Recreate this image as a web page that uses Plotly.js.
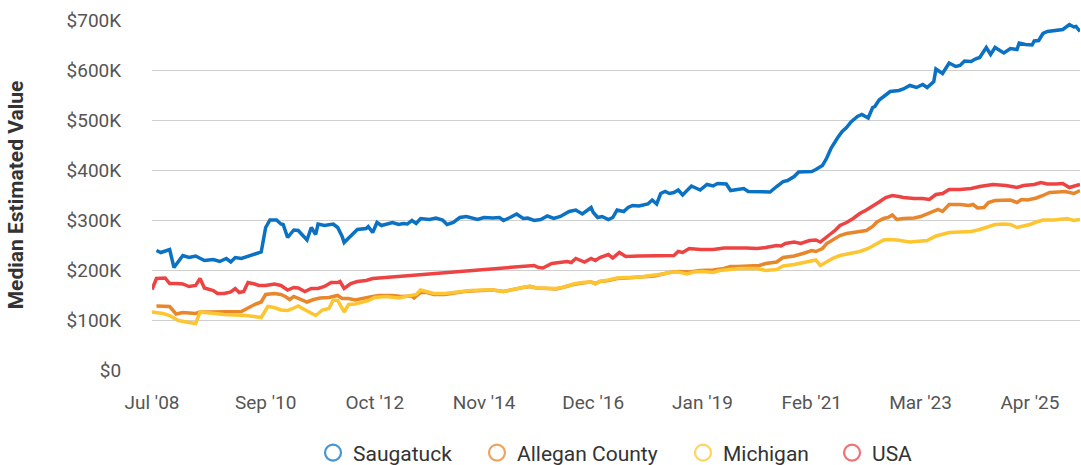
<!DOCTYPE html>
<html>
<head>
<meta charset="utf-8">
<script src="https://cdn.plot.ly/plotly-3.0.1.min.js"></script>
<style>html,body{margin:0;padding:0;background:#fff;}#chart{width:1081px;height:465px;}</style>
</head>
<body>
<div id="chart"></div>
<script>
// Median estimated value, in thousands of dollars
const seriesNames = ["Saugatuck", "Allegan County", "Michigan", "USA"];

const saugatuckDates = ["2008-08-01","2008-09-01","2008-11-01","2008-12-01","2009-02-01","2009-03-16","2009-05-01","2009-07-01","2009-09-01","2009-10-16","2009-12-01","2010-01-01","2010-02-01","2010-03-16","2010-08-01","2010-09-01","2010-10-01","2010-11-16","2010-12-16","2011-01-01","2011-02-01","2011-03-16","2011-04-16","2011-06-16","2011-07-16","2011-08-16","2011-09-01","2011-10-16","2011-12-16","2012-01-16","2012-02-16","2012-03-01","2012-04-16","2012-06-01","2012-08-01","2012-08-16","2012-09-16","2012-10-16","2012-11-16","2013-01-01","2013-02-01","2013-03-16","2013-04-16","2013-05-16","2013-06-16","2013-07-16","2013-08-16","2013-10-16","2013-12-01","2014-01-16","2014-02-16","2014-04-01","2014-05-16","2014-07-01","2014-09-16","2014-11-01","2015-01-01","2015-02-16","2015-03-16","2015-05-01","2015-06-16","2015-08-01","2015-09-01","2015-10-16","2015-12-01","2016-01-16","2016-03-01","2016-04-16","2016-05-16","2016-06-16","2016-08-01","2016-09-16","2016-11-16","2016-12-01","2017-01-01","2017-02-01","2017-03-16","2017-04-16","2017-05-16","2017-07-01","2017-08-01","2017-09-01","2017-10-16","2017-12-16","2018-01-16","2018-02-16","2018-03-16","2018-04-16","2018-05-16","2018-06-16","2018-07-16","2018-08-16","2018-10-16","2018-11-16","2018-12-16","2019-02-01","2019-03-16","2019-04-16","2019-06-16","2019-07-16","2019-09-01","2019-10-16","2019-11-16","2020-01-16","2020-03-01","2020-04-16","2020-06-01","2020-07-16","2020-08-16","2020-10-01","2020-11-01","2020-12-16","2021-02-01","2021-03-01","2021-04-16","2021-05-16","2021-06-16","2021-08-01","2021-09-01","2021-10-01","2021-11-01","2021-12-16","2022-01-16","2022-03-01","2022-04-01","2022-04-16","2022-05-16","2022-07-01","2022-08-01","2022-10-01","2022-11-01","2022-12-16","2023-02-01","2023-03-16","2023-04-16","2023-06-01","2023-06-16","2023-08-01","2023-09-16","2023-11-01","2023-12-01","2024-01-01","2024-02-16","2024-03-16","2024-04-16","2024-06-01","2024-07-01","2024-08-01","2024-10-01","2024-11-16","2025-01-01","2025-01-16","2025-03-01","2025-04-16","2025-05-01","2025-06-01","2025-07-01","2025-08-01","2025-10-01","2025-11-16","2026-01-01","2026-02-01","2026-02-16","2026-03-16"];
const saugatuckValues = [239,235,241,205,229,225,228,219,221,217,223,216,225,223,236,285,300,300,292,291,265,280,279,260,285,271,292,289,292,285,267,255,268,281,283,287,275,295,289,292,295,291,293,292,299,293,303,301,304,300,291,295,305,307,301,305,304,305,299,305,312,303,304,299,301,308,303,307,311,317,320,312,325,315,305,307,301,305,320,317,325,329,328,332,340,332,353,357,353,355,360,350,368,363,360,371,368,373,372,359,361,363,357,356,357,356,367,377,379,387,396,397,397,401,409,424,444,465,477,485,496,507,511,504,525,527,540,550,557,559,562,569,565,571,565,577,602,593,614,607,609,618,617,622,625,645,631,645,634,643,641,654,651,650,658,659,673,677,679,681,691,686,687,677];

const alleganDates = ["2008-08-01","2008-11-01","2008-12-16","2009-02-01","2009-05-01","2009-06-01","2009-09-01","2010-02-01","2010-03-16","2010-05-01","2010-06-16","2010-08-01","2010-09-01","2010-11-01","2010-12-16","2011-01-16","2011-02-16","2011-03-16","2011-05-01","2011-06-16","2011-08-01","2011-09-16","2011-11-16","2012-01-16","2012-02-16","2012-04-01","2012-05-16","2012-07-01","2012-09-16","2012-11-01","2013-02-01","2013-04-01","2013-06-16","2013-07-01","2013-08-16","2013-10-01","2013-11-16","2014-02-01","2014-04-01","2014-06-16","2014-08-01","2014-11-01","2015-01-01","2015-03-16","2015-05-16","2015-08-01","2015-09-16","2015-11-01","2016-01-16","2016-03-16","2016-05-01","2016-07-16","2016-09-16","2016-11-16","2016-12-16","2017-01-16","2017-03-16","2017-05-16","2017-07-16","2017-09-01","2017-11-16","2018-02-01","2018-04-01","2018-05-16","2018-07-16","2018-10-01","2018-12-16","2019-03-16","2019-06-01","2019-07-16","2019-09-01","2019-11-01","2020-02-01","2020-03-16","2020-06-01","2020-07-16","2020-10-01","2020-12-01","2021-02-01","2021-03-01","2021-04-16","2021-05-16","2021-07-01","2021-08-16","2021-10-01","2021-12-16","2022-02-16","2022-04-01","2022-05-01","2022-06-16","2022-07-16","2022-08-16","2022-09-16","2022-11-01","2023-01-16","2023-03-01","2023-04-16","2023-06-01","2023-07-01","2023-08-01","2023-09-16","2023-12-01","2024-02-01","2024-03-01","2024-04-01","2024-05-16","2024-06-16","2024-08-01","2024-10-01","2024-11-16","2025-01-01","2025-02-01","2025-03-16","2025-05-16","2025-07-01","2025-08-16","2025-10-16","2025-12-01","2026-02-01","2026-03-16"];
const alleganValues = [128,127,112,115,113,116,116,116,117,124,131,136,151,153,151,147,141,147,141,136,141,144,145,149,143,143,140,143,147,149,149,147,148,144,155,155,151,151,154,157,158,160,160,157,161,165,167,164,163,162,165,171,174,176,173,177,179,183,184,185,186,188,192,195,197,196,199,200,203,207,207,208,209,213,216,225,228,233,239,237,243,253,261,269,273,276,279,287,296,303,305,310,301,303,304,307,312,316,321,317,331,331,329,331,324,325,335,339,339,340,335,341,340,344,349,355,356,357,353,359];

const michiganDates = ["2008-07-01","2008-09-16","2008-11-01","2009-01-01","2009-03-16","2009-05-01","2009-06-01","2009-08-16","2009-11-16","2010-04-16","2010-08-01","2010-09-16","2010-11-01","2010-12-16","2011-02-01","2011-03-16","2011-04-16","2011-05-16","2011-07-01","2011-08-16","2011-10-01","2011-11-16","2011-12-16","2012-01-16","2012-03-01","2012-04-01","2012-05-16","2012-07-01","2012-08-16","2012-10-01","2012-12-16","2013-03-16","2013-06-16","2013-07-16","2013-08-16","2013-10-01","2013-11-16","2014-02-01","2014-04-01","2014-06-16","2014-08-01","2014-11-01","2015-01-01","2015-03-16","2015-05-16","2015-08-01","2015-09-16","2015-11-01","2016-01-16","2016-03-16","2016-05-01","2016-07-16","2016-09-16","2016-11-16","2016-12-16","2017-01-16","2017-03-16","2017-05-16","2017-07-16","2017-09-01","2017-11-16","2018-02-01","2018-04-01","2018-05-16","2018-07-16","2018-09-16","2018-11-01","2019-01-01","2019-03-16","2019-05-01","2019-07-16","2019-09-16","2020-01-16","2020-03-16","2020-06-01","2020-07-16","2020-10-01","2020-12-01","2021-02-01","2021-03-01","2021-04-01","2021-05-16","2021-07-01","2021-08-16","2021-11-01","2022-01-01","2022-03-01","2022-05-01","2022-06-16","2022-07-16","2022-09-16","2022-12-16","2023-03-01","2023-04-16","2023-06-16","2023-08-01","2023-09-16","2023-12-01","2024-02-16","2024-04-16","2024-06-01","2024-08-01","2024-10-01","2024-11-16","2025-01-01","2025-03-01","2025-04-01","2025-05-16","2025-07-01","2025-09-16","2025-11-16","2025-12-16","2026-02-01","2026-03-16"];
const michiganValues = [116,113,109,99,95,93,116,113,111,109,105,127,125,120,119,124,128,123,115,109,120,123,140,139,116,131,132,136,139,145,147,144,148,151,160,157,153,153,155,157,159,160,160,157,161,165,168,164,164,163,165,172,175,176,172,177,180,184,185,185,187,189,192,195,196,192,196,197,195,199,201,203,203,199,201,208,211,215,219,220,209,217,224,229,233,237,243,252,260,261,260,256,257,259,268,272,275,276,277,281,285,291,292,291,285,289,291,296,300,300,301,303,299,301];

const usaDates = ["2008-07-01","2008-08-01","2008-10-01","2008-11-01","2008-12-16","2009-02-01","2009-03-16","2009-05-01","2009-06-01","2009-07-01","2009-09-01","2009-10-01","2009-11-16","2010-01-01","2010-02-01","2010-03-01","2010-04-01","2010-05-01","2010-06-16","2010-07-16","2010-09-01","2010-11-01","2010-12-16","2011-02-01","2011-03-16","2011-04-16","2011-06-01","2011-07-16","2011-09-01","2011-10-16","2011-12-01","2012-01-16","2012-02-01","2012-03-01","2012-04-16","2012-06-01","2012-08-01","2012-09-16","2012-11-01","2015-10-16","2015-11-16","2015-12-16","2016-02-16","2016-04-16","2016-06-01","2016-07-01","2016-08-01","2016-10-01","2016-11-16","2016-12-16","2017-01-16","2017-03-16","2017-04-16","2017-06-01","2017-07-16","2017-10-16","2018-02-01","2018-06-16","2018-07-16","2018-08-16","2018-10-01","2018-12-16","2019-03-16","2019-06-01","2019-11-01","2020-01-16","2020-03-16","2020-06-01","2020-07-01","2020-08-01","2020-10-01","2020-11-16","2021-01-16","2021-03-01","2021-04-01","2021-06-01","2021-07-16","2021-08-16","2021-10-01","2021-11-16","2022-01-01","2022-02-16","2022-04-01","2022-05-16","2022-07-01","2022-08-16","2022-10-01","2022-11-01","2023-01-16","2023-03-16","2023-05-01","2023-06-16","2023-08-01","2023-09-16","2023-12-01","2024-02-16","2024-04-16","2024-07-16","2024-10-16","2025-01-01","2025-02-16","2025-05-01","2025-06-16","2025-08-01","2025-10-01","2025-11-16","2026-01-01","2026-02-01","2026-03-16"];
const usaValues = [161,183,184,173,173,172,167,169,183,164,159,153,153,156,163,155,157,175,172,169,169,172,169,160,165,164,157,163,163,167,175,175,177,163,173,177,179,183,184,209,205,204,213,215,217,215,223,216,223,219,225,231,224,235,227,228,228,229,237,235,243,241,241,244,244,243,245,249,248,253,256,253,259,260,256,269,280,289,295,303,313,320,327,336,345,349,347,345,343,343,341,351,353,361,361,363,367,371,369,365,369,371,375,372,372,373,365,368,371];

// Axis labels
const xTickDates = ["2008-07-01","2010-09-01","2012-10-01","2014-11-01","2016-12-01","2019-01-01","2021-02-01","2023-03-01","2025-04-01"];
const xTickLabels = ["Jul '08","Sep '10","Oct '12","Nov '14","Dec '16","Jan '19","Feb '21","Mar '23","Apr '25"];
const yTickValues = [0,100,200,300,400,500,600,700];
const yTickLabels = ["$0","$100K","$200K","$300K","$400K","$500K","$600K","$700K"];

const colors = ["#0a71c3", "#e8862b", "#fdc52f", "#ee4343"];
const xs = [saugatuckDates, alleganDates, michiganDates, usaDates];
const ys = [saugatuckValues, alleganValues, michiganValues, usaValues];
const legendIds = ["legend", "legend2", "legend3", "legend4"];
const legendX = [0.1735, 0.3502, 0.5722, 0.7328];

const traces = [];
seriesNames.forEach((name, i) => {
  traces.push({
    type: "scatter", mode: "lines", name: name, x: xs[i], y: ys[i],
    line: {color: colors[i], width: 3.5, shape: "linear"},
    showlegend: false, hoverinfo: "skip"
  });
});
seriesNames.forEach((name, i) => {
  traces.push({
    type: "scatter", mode: "markers", name: name, x: [null], y: [null],
    marker: {symbol: "circle-open", size: 22, color: colors[i], opacity: 0.75, line: {width: 2.2, color: colors[i]}},
    showlegend: true, legend: legendIds[i]
  });
});

const layout = {
  width: 1081, height: 465,
  margin: {l: 152, r: 1, t: 20, b: 95, autoexpand: false},
  paper_bgcolor: "#fff", plot_bgcolor: "#fff",
  font: {family: "Roboto, 'Noto Sans', sans-serif", color: "#555"},
  showlegend: true,
  xaxis: {
    type: "date", range: ["2008-07-01", "2026-03-16"],
    tickvals: xTickDates, ticktext: xTickLabels,
    showgrid: false, zeroline: false, showline: false,
    ticks: "outside", ticklen: 15, tickcolor: "rgba(0,0,0,0)",
    tickfont: {size: 19, color: "#555"}
  },
  yaxis: {
    range: [0, 700], tickvals: yTickValues, ticktext: yTickLabels,
    showgrid: true, gridcolor: "#cfcfcf", gridwidth: 1,
    zeroline: false, showline: false,
    ticks: "outside", ticklen: 26, tickcolor: "rgba(0,0,0,0)",
    tickfont: {size: 19, color: "#555"},
    title: {text: "Median Estimated Value", font: {size: 21, color: "#333", weight: "bold"}, standoff: 37}
  }
};
legendIds.forEach((id, i) => {
  layout[id] = {orientation: "h", x: legendX[i], xanchor: "left", y: -0.237, yanchor: "middle",
                font: {size: 21, color: "#333"}, itemclick: false, bgcolor: "rgba(0,0,0,0)"};
});

Plotly.newPlot("chart", traces, layout, {displayModeBar: false, staticPlot: true});
</script>
</body>
</html>
